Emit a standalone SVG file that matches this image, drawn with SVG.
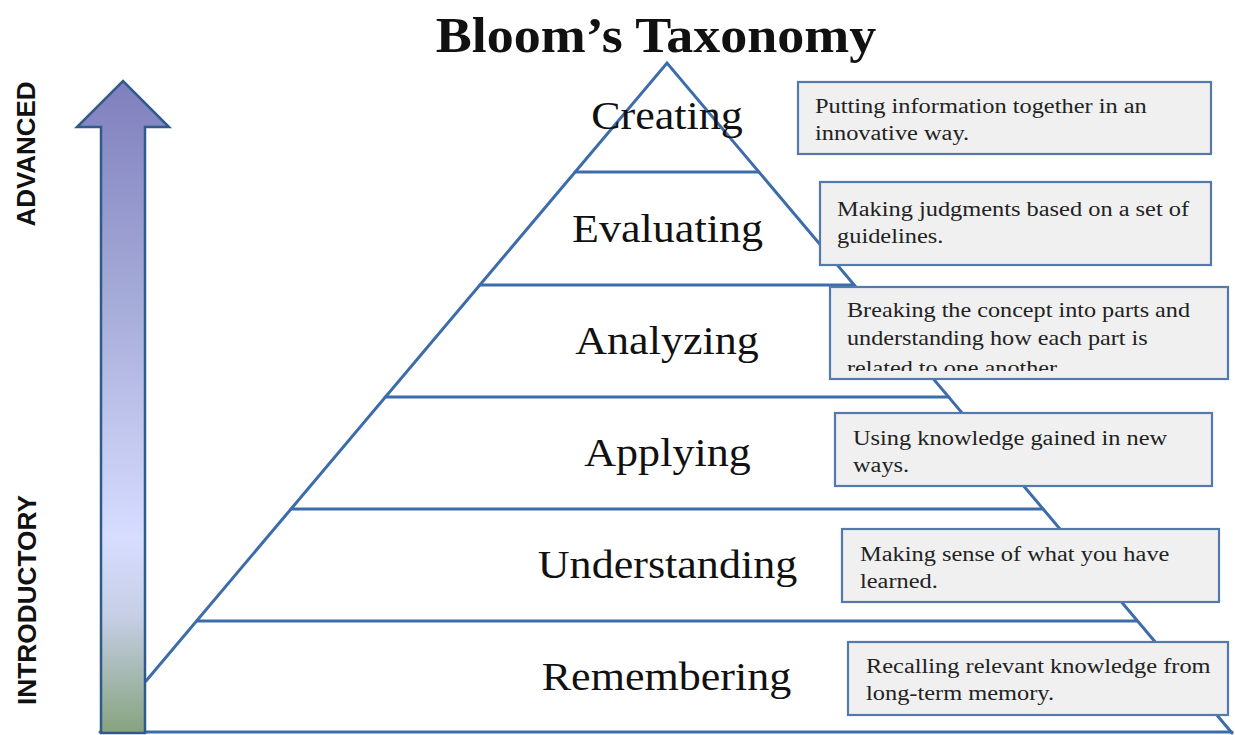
<svg xmlns="http://www.w3.org/2000/svg" width="1235" height="735" viewBox="0 0 1235 735">
  <style>
    .edge { stroke: #3d6cab; stroke-width: 3; fill: none; stroke-linecap: round; }
    .level { font-family: "Liberation Serif", "Times New Roman", serif; font-size: 39px; fill: #111; text-anchor: middle; }
    .box { fill: #f0f0f0; stroke: #5479ab; stroke-width: 2.2; }
    .desc { font-family: "Liberation Serif", "Times New Roman", serif; font-size: 20.5px; fill: #222; }
    .side { font-family: "Liberation Sans", Arial, sans-serif; font-weight: bold; font-size: 25px; fill: #111; text-anchor: middle; }
  </style>
  <defs>
    <linearGradient id="shaftFill" x1="0" y1="80" x2="0" y2="733" gradientUnits="userSpaceOnUse">
      <stop offset="0" stop-color="#7f7fbd"/>
      <stop offset="0.35" stop-color="#a7add9"/>
      <stop offset="0.7" stop-color="#d7ddff"/>
      <stop offset="0.82" stop-color="#c6cfe6"/>
      <stop offset="1" stop-color="#86a37e"/>
    </linearGradient>
    <!-- the third description line overflows its box and is cut off -->
    <clipPath id="box3clip">
      <rect x="830" y="287" width="398" height="84"/>
    </clipPath>
  </defs>

  <rect width="1235" height="735" fill="#ffffff"/>

  <!-- title -->
  <text transform="translate(656,52) scale(1.08,1)" x="0" y="0" font-family="Liberation Serif, Times New Roman, serif" font-weight="bold" font-size="50" text-anchor="middle" fill="#111">Bloom’s Taxonomy</text>

  <!-- pyramid outline and tier dividers -->
  <g id="connectors">
    <polyline class="edge" points="146,681 667,63 1232,733"/>
    <line class="edge" x1="575" y1="172" x2="759" y2="172"/>
    <line class="edge" x1="480" y1="285" x2="854" y2="285"/>
    <line class="edge" x1="385" y1="397" x2="949" y2="397"/>
    <line class="edge" x1="291" y1="509" x2="1043" y2="509"/>
    <line class="edge" x1="197" y1="621" x2="1137" y2="621"/>
    <line class="edge" x1="100" y1="732" x2="1232" y2="732"/>
  </g>

  <!-- upward progression arrow -->
  <g id="progress-arrow">
    <path d="M101,733 L101,127 L77,127 L123,81 L169,127 L145,127 L145,733 Z" fill="url(#shaftFill)" stroke="#2e5b8a" stroke-width="2.5" stroke-linejoin="miter"/>
    <text class="side" transform="translate(35,154) rotate(-90)" textLength="145" lengthAdjust="spacingAndGlyphs">ADVANCED</text>
    <text class="side" transform="translate(36,600) rotate(-90)" textLength="210" lengthAdjust="spacingAndGlyphs">INTRODUCTORY</text>
  </g>

  <!-- tier labels are widened slightly to the drawn proportions -->
  <g id="creating">
    <text class="level" transform="translate(667,129) scale(1.13,1)">Creating</text>
    <rect class="box" x="798" y="82" width="413" height="72"/>
    <g transform="translate(815,0) scale(1.19,1)">
      <text class="desc" x="0" y="113">Putting information together in an</text>
      <text class="desc" x="0" y="140">innovative way.</text>
    </g>
  </g>

  <g id="evaluating">
    <text class="level" transform="translate(667.5,242) scale(1.13,1)">Evaluating</text>
    <rect class="box" x="820" y="182" width="391" height="83"/>
    <g transform="translate(837,0) scale(1.19,1)">
      <text class="desc" x="0" y="216">Making judgments based on a set of</text>
      <text class="desc" x="0" y="243">guidelines.</text>
    </g>
  </g>

  <g id="analyzing">
    <text class="level" transform="translate(667,354) scale(1.13,1)">Analyzing</text>
    <rect class="box" x="830" y="287" width="398" height="92"/>
    <g clip-path="url(#box3clip)">
      <g transform="translate(847,0) scale(1.18,1)">
        <text class="desc" x="0" y="317">Breaking the concept into parts and</text>
        <text class="desc" x="0" y="345">understanding how each part is</text>
        <text class="desc" x="0" y="375">related to one another</text>
      </g>
    </g>
  </g>

  <g id="applying">
    <text class="level" transform="translate(667.5,466) scale(1.13,1)">Applying</text>
    <rect class="box" x="835" y="413" width="377" height="73"/>
    <g transform="translate(853,0) scale(1.19,1)">
      <text class="desc" x="0" y="445">Using knowledge gained in new</text>
      <text class="desc" x="0" y="472">ways.</text>
    </g>
  </g>

  <g id="understanding">
    <text class="level" transform="translate(667.5,578) scale(1.13,1)">Understanding</text>
    <rect class="box" x="842" y="529" width="377" height="73"/>
    <g transform="translate(860,0) scale(1.19,1)">
      <text class="desc" x="0" y="561">Making sense of what you have</text>
      <text class="desc" x="0" y="588">learned.</text>
    </g>
  </g>

  <g id="remembering">
    <text class="level" transform="translate(666.5,690) scale(1.13,1)">Remembering</text>
    <rect class="box" x="848" y="642" width="380" height="73"/>
    <g transform="translate(866,0) scale(1.19,1)">
      <text class="desc" x="0" y="673">Recalling relevant knowledge from</text>
      <text class="desc" x="0" y="700">long-term memory.</text>
    </g>
  </g>
</svg>
